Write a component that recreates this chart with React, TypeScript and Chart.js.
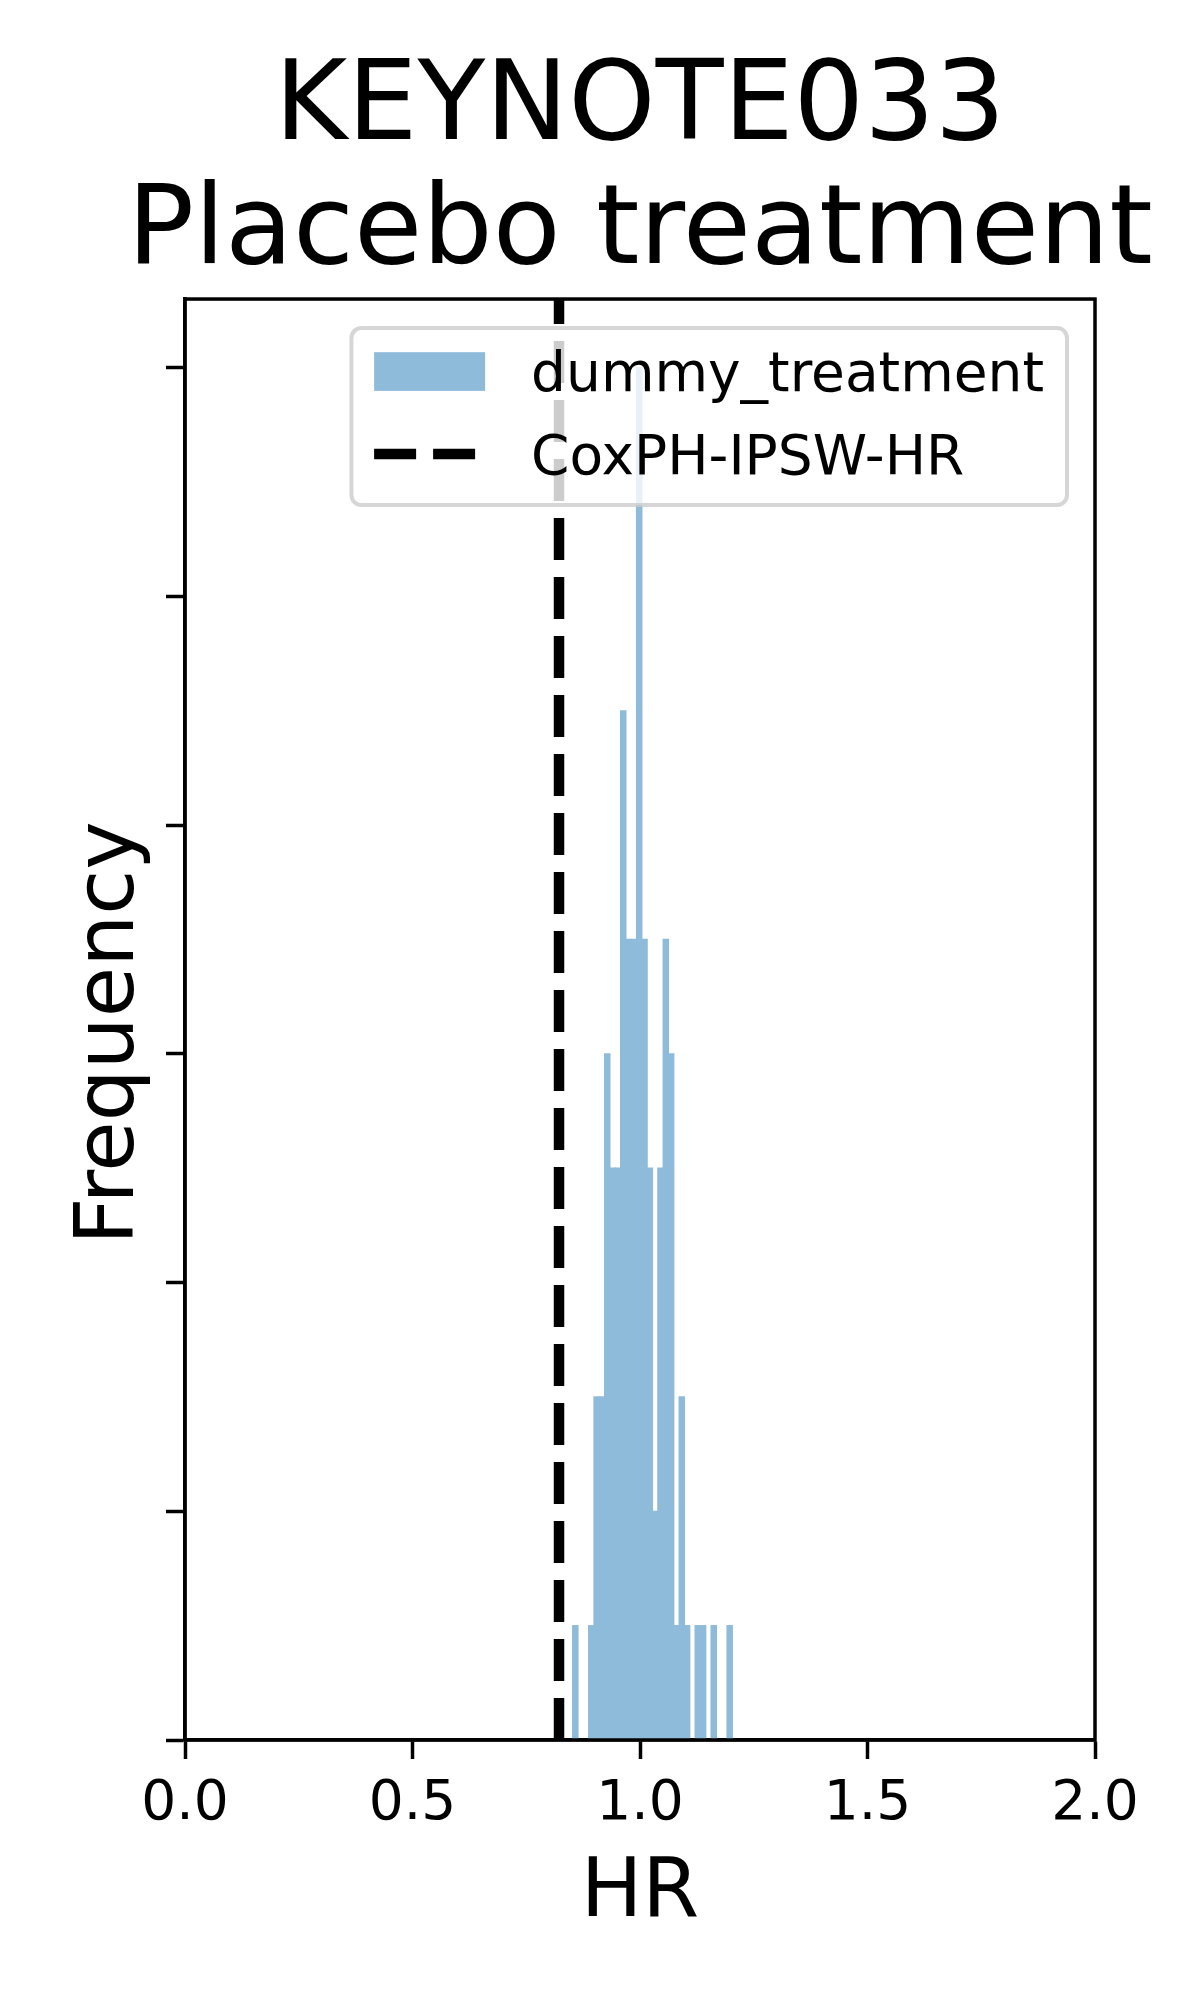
import React, { useEffect, useRef } from "react";
import { Chart, registerables } from "chart.js";

Chart.register(...registerables);

// ---- data ----
const TITLE_LINES = ["KEYNOTE033", "Placebo treatment"];
const X_LABEL = "HR";
const Y_LABEL = "Frequency";
const SERIES_LABEL = "dummy_treatment";
const LINE_LABEL = "CoxPH-IPSW-HR";

// histogram: 30 equal bins between BIN_START and BIN_END
const BIN_START = 0.852;
const BIN_END = 1.203;
const BIN_COUNTS = [1, 0, 0, 1, 3, 3, 6, 5, 5, 9, 7, 7, 12, 7, 5, 2, 5, 7, 6, 1, 3, 1, 0, 1, 1, 0, 1, 0, 0, 1];

const HR_LINE = 0.822;

const X_TICKS = [0, 0.5, 1.0, 1.5, 2.0];
const Y_TICKS = [0, 2, 4, 6, 8, 10, 12];
const X_RANGE = [0, 2];
const Y_RANGE = [0, 12.6];

// ---- styles ----
const FONT = "'DejaVu Sans', 'Liberation Sans', sans-serif";
const BAR_COLOR = "rgb(143,187,218)"; // C0 at alpha 0.5 over white
const SPINE_W = 3.5;
const DASH_W = 10.5;
const DASH = [42, 17];

const binWidth = (BIN_END - BIN_START) / BIN_COUNTS.length;
const histPoints = BIN_COUNTS.map((c, i) => ({ x: BIN_START + (i + 0.5) * binWidth, y: c }));

const framePlugin = {
  id: "frame",
  afterDatasetsDraw(chart: any) {
    const { ctx, chartArea: a } = chart;
    ctx.save();
    ctx.strokeStyle = "#000";
    ctx.lineWidth = SPINE_W;
    ctx.lineJoin = "miter";
    ctx.strokeRect(a.left, a.top, a.right - a.left, a.bottom - a.top);
    ctx.restore();
  },
};

const yLabelPlugin = {
  id: "yLabel",
  afterDraw(chart: any) {
    const { ctx } = chart;
    ctx.save();
    ctx.font = `82px ${FONT}`;
    ctx.fillStyle = "#000";
    ctx.textAlign = "center";
    ctx.textBaseline = "alphabetic";
    ctx.translate(132.5, 1033);
    ctx.rotate(-Math.PI / 2);
    ctx.fillText(Y_LABEL, 0, 0);
    ctx.restore();
  },
};

const legendPlugin = {
  id: "mplLegend",
  afterDraw(chart: any) {
    const { ctx, chartArea: a } = chart;
    const fs = 55;
    const pad = 22.7;
    const handleW = 111;
    const handleH = 38.7;
    const textPad = 46;
    const rightPad = 23;
    ctx.save();
    ctx.font = `${fs}px ${FONT}`;
    const labels = chart.data.datasets.map((d: any) => d.label);
    const textW = Math.max(...labels.map((l: string) => ctx.measureText(l).width));
    const boxW = pad + handleW + textPad + textW + rightPad;
    const boxH = 177;
    const right = a.right - 28;
    const left = right - boxW;
    const top = a.top + 29;
    const r = 10;
    ctx.beginPath();
    ctx.moveTo(left + r, top);
    ctx.lineTo(right - r, top);
    ctx.arcTo(right, top, right, top + r, r);
    ctx.lineTo(right, top + boxH - r);
    ctx.arcTo(right, top + boxH, right - r, top + boxH, r);
    ctx.lineTo(left + r, top + boxH);
    ctx.arcTo(left, top + boxH, left, top + boxH - r, r);
    ctx.lineTo(left, top + r);
    ctx.arcTo(left, top, left + r, top, r);
    ctx.closePath();
    ctx.fillStyle = "rgba(255,255,255,0.8)";
    ctx.fill();
    ctx.strokeStyle = "rgba(204,204,204,0.8)";
    ctx.lineWidth = 4;
    ctx.stroke();

    const rows = [top + 43.5, top + 126];
    const hx = left + pad;
    chart.data.datasets.forEach((d: any, i: number) => {
      const cy = rows[i];
      if (d.type === "line") {
        ctx.save();
        ctx.strokeStyle = d.borderColor;
        ctx.lineWidth = DASH_W;
        ctx.setLineDash(DASH);
        ctx.lineCap = "butt";
        ctx.beginPath();
        ctx.moveTo(hx, cy);
        ctx.lineTo(hx + handleW, cy);
        ctx.stroke();
        ctx.restore();
      } else {
        ctx.fillStyle = d.backgroundColor;
        ctx.fillRect(hx, cy - handleH / 2, handleW, handleH);
      }
      ctx.fillStyle = "#000";
      ctx.textAlign = "left";
      ctx.textBaseline = "alphabetic";
      ctx.fillText(d.label, hx + handleW + textPad, cy + 19.5);
    });
    ctx.restore();
  },
};

export default function App() {
  const ref = useRef<HTMLCanvasElement | null>(null);

  useEffect(() => {
    document.body.style.margin = "0";
    const canvas = ref.current;
    if (!canvas) return;
    const chart = new Chart(canvas, {
      type: "bar",
      data: {
        datasets: [
          {
            type: "bar",
            label: SERIES_LABEL,
            data: histPoints,
            backgroundColor: BAR_COLOR,
            borderWidth: 0,
            barPercentage: 1,
            categoryPercentage: 1,
            inflateAmount: 0.6,
            order: 1,
          } as any,
          {
            type: "line",
            label: LINE_LABEL,
            data: [
              { x: HR_LINE, y: Y_RANGE[0] },
              { x: HR_LINE, y: Y_RANGE[1] },
            ],
            borderColor: "#000",
            borderWidth: DASH_W,
            borderDash: DASH,
            borderCapStyle: "butt",
            pointRadius: 0,
            fill: false,
            order: 0,
          } as any,
        ],
      },
      options: {
        animation: false,
        responsive: false,
        devicePixelRatio: 1,
        layout: { padding: { left: 80, right: 0, top: 0, bottom: 0 } },
        plugins: {
          legend: { display: false },
          tooltip: { enabled: false },
          title: {
            display: true,
            text: TITLE_LINES,
            color: "#000",
            font: { family: FONT, size: 111, lineHeight: 1.12, weight: "normal" },
            padding: { top: 48, bottom: 2.4 },
          },
        },
        scales: {
          x: {
            type: "linear",
            min: X_RANGE[0],
            max: X_RANGE[1],
            offset: false,
            afterBuildTicks: (s: any) => {
              s.ticks = X_TICKS.map((v) => ({ value: v }));
            },
            afterFit: (s: any) => {
              s.height = 260;
            },
            ticks: {
              color: "#000",
              font: { family: FONT, size: 55, lineHeight: 1 },
              padding: 18,
              maxRotation: 0,
              autoSkip: false,
              callback: (v: any) => Number(v).toFixed(1),
            },
            grid: {
              offset: false,
              drawOnChartArea: false,
              drawTicks: true,
              tickLength: 19,
              tickWidth: SPINE_W,
              tickColor: "#000",
            },
            border: { display: true, color: "#000", width: SPINE_W },
            title: {
              display: true,
              text: X_LABEL,
              color: "#000",
              font: { family: FONT, size: 82, lineHeight: 1 },
              padding: { top: 0, bottom: 64 },
            },
          },
          y: {
            type: "linear",
            position: "left",
            min: Y_RANGE[0],
            max: Y_RANGE[1],
            afterBuildTicks: (s: any) => {
              s.ticks = Y_TICKS.map((v) => ({ value: v }));
            },
            afterFit: (s: any) => {
              s.width = 105;
            },
            ticks: { display: false },
            grid: {
              drawOnChartArea: false,
              drawTicks: true,
              tickLength: 19,
              tickWidth: SPINE_W,
              tickColor: "#000",
            },
            border: { display: true, color: "#000", width: SPINE_W },
            title: { display: false },
          },
          yRight: {
            type: "linear",
            position: "right",
            display: true,
            min: Y_RANGE[0],
            max: Y_RANGE[1],
            afterFit: (s: any) => {
              s.width = 105;
            },
            ticks: { display: false },
            grid: { display: false, drawTicks: false },
            border: { display: false },
            title: { display: false },
          },
        },
      } as any,
      plugins: [framePlugin, legendPlugin, yLabelPlugin],
    });
    return () => chart.destroy();
  }, []);

  return (
    <div style={{ width: 1200, height: 2000, background: "#fff" }}>
      <canvas ref={ref} width={1200} height={2000} style={{ display: "block", width: 1200, height: 2000 }} />
    </div>
  );
}
